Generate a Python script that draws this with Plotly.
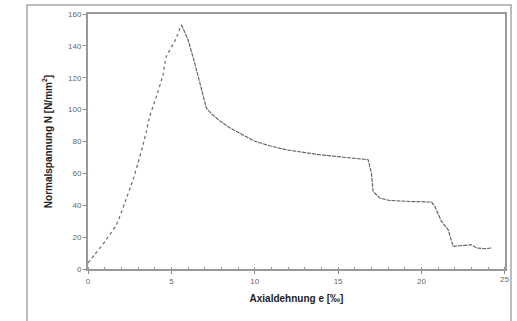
import plotly.graph_objects as go

# Data
strain = [0.0, 0.4, 1.1, 1.7, 2.2, 2.7, 3.0, 3.3, 3.5, 3.7, 3.9, 4.1, 4.5, 4.7, 5.2, 5.6,
          6.0, 6.4, 6.8, 7.1, 7.4, 7.9, 8.5, 9.1, 10.0, 10.9, 11.9, 13.9, 15.9, 16.5, 16.8,
          17.0, 17.1, 17.5, 18.1, 19.3, 20.6, 20.8, 21.2, 21.6, 21.9, 22.3, 23.0, 23.3,
          23.8, 24.2]
stress = [3.8, 9.0, 18.4, 27.8, 41.4, 56.0, 66.5, 78.0, 86.3, 95.7, 102.0, 108.3, 121.9,
          133.4, 142.8, 153.3, 143.9, 129.2, 112.5, 101.0, 97.5, 93.0, 88.6, 85.3, 80.2,
          77.3, 74.8, 71.7, 69.6, 69.3, 68.6, 60.2, 48.7, 44.5, 43.0, 42.4, 42.0, 39.3,
          29.9, 24.7, 14.2, 14.6, 15.2, 13.2, 12.7, 13.2]
peak_index = 15

x_ticks = [0, 5, 10, 15, 20, 25]
x_ticktext = ["0", "5", "10", "15", "20", ""]
x_last_label = "25"
y_ticks = [0, 20, 40, 60, 80, 100, 120, 140, 160]

W, H = 517, 321
ml, mr, mt, mb = 88, 12, 14, 52
pw, ph = W - ml - mr, H - mt - mb

def px_to_paper_x(px):
    return (px - ml) / pw

def px_to_paper_y(py):
    return (H - mb - py) / ph

fig = go.Figure()
fig.add_trace(go.Scatter(x=strain[:peak_index + 1], y=stress[:peak_index + 1], mode="lines",
                         line=dict(color="#6a6a6a", width=1.2, dash="dot", shape="spline", smoothing=0.6),
                         showlegend=False, hoverinfo="skip"))
fig.add_trace(go.Scatter(x=strain[peak_index:], y=stress[peak_index:], mode="lines",
                         line=dict(color="#5a5a5a", width=1.1, dash="4px,1px"),
                         showlegend=False, hoverinfo="skip"))

tickfont = dict(family="Liberation Sans, Arial, sans-serif", size=8, color="#666")
titlefont = dict(family="Liberation Sans, Arial, sans-serif", size=10, color="#222")

fig.update_layout(
    width=W, height=H,
    margin=dict(l=ml, r=mr, t=mt, b=mb, autoexpand=False),
    paper_bgcolor="white", plot_bgcolor="white",
    xaxis=dict(range=[0, 25.01], tickvals=x_ticks, ticktext=x_ticktext, ticks="outside", ticklen=3,
               tickcolor="#888", showgrid=False, zeroline=False, automargin=False,
               showline=True, linecolor="#9a9a9a", linewidth=2, mirror=True,
               tickfont=tickfont,
               minor=dict(dtick=1, ticks="inside", ticklen=2, tickcolor="#999"),
               title=dict(text="<b>Axialdehnung e [‰]</b>", font=titlefont, standoff=10)),
    yaxis=dict(range=[0, 160.05], tickvals=y_ticks, ticks="outside", ticklen=3,
               tickcolor="#888", showgrid=False, zeroline=False, automargin=False,
               showline=True, linecolor="#9a9a9a", linewidth=2, mirror=True,
               tickfont=tickfont,
               title=dict(text="<b>Normalspannung N [N/mm<sup>2</sup>]</b>", font=titlefont, standoff=14)),
    annotations=[dict(x=x_ticks[-1], y=0, xref="x", yref="paper", text=x_last_label,
                      showarrow=False, xanchor="center", yanchor="top", yshift=-4,
                      font=tickfont)],
    shapes=[dict(type="rect", xref="paper", yref="paper",
                 x0=px_to_paper_x(27), x1=px_to_paper_x(511),
                 y0=px_to_paper_y(340), y1=px_to_paper_y(5),
                 line=dict(color="#bdbdbd", width=2), layer="below")],
)

fig.write_html("out.html", config={"displayModeBar": False},
               post_script="document.body.style.margin='0';")
